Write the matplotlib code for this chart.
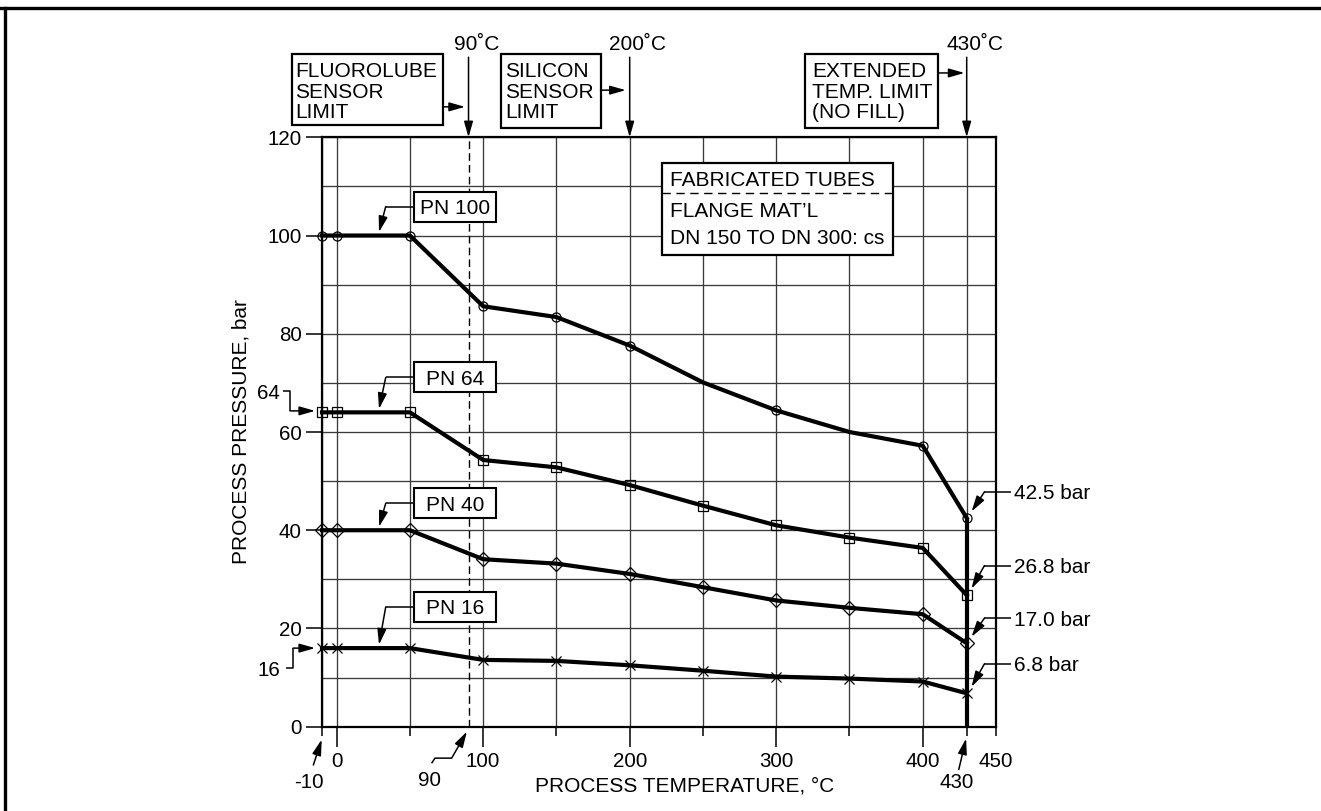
import matplotlib
matplotlib.use("Agg")
import matplotlib.pyplot as plt
from matplotlib.patches import Rectangle
from matplotlib.lines import Line2D

plt.rcParams['font.family'] = ['Liberation Sans', 'DejaVu Sans']

# ---------------- data ----------------
temps = [-10, 0, 50, 100, 150, 200, 250, 300, 350, 400, 430]
pn100 = [100, 100, 100, 85.6, 83.4, 77.6, 70.1, 64.4, 60.0, 57.2, 42.5]
pn64 = [64, 64, 64, 54.3, 52.8, 49.2, 45.0, 41.0, 38.5, 36.4, 26.8]
pn40 = [40, 40, 40, 34.1, 33.2, 31.1, 28.4, 25.7, 24.2, 22.9, 17.0]
pn16 = [16, 16, 16, 13.6, 13.4, 12.5, 11.4, 10.2, 9.8, 9.2, 6.8]
series_names = ["PN 100", "PN 64", "PN 40", "PN 16"]
series_vals = [pn100, pn64, pn40, pn16]
series_markers = ['o', 's', 'D', 'x']
pn100_marked = [0, 1, 2, 3, 4, 5, 7, 9, 10]
end_labels = ["42.5 bar", "26.8 bar", "17.0 bar", "6.8 bar"]

x_major = [0, 100, 200, 300, 400, 450]
x_minor = [-10, 50, 150, 250, 350, 430]
y_major = [0, 20, 40, 60, 80, 100, 120]
y_minor = [10, 30, 50, 70, 90, 110]

limit_temps = [90, 200, 430]
limit_titles = ["90˚C", "200˚C", "430˚C"]
limit_boxes = [["FLUOROLUBE", "SENSOR", "LIMIT"],
               ["SILICON", "SENSOR", "LIMIT"],
               ["EXTENDED", "TEMP. LIMIT", "(NO FILL)"]]

note_lines = ["FABRICATED TUBES", "FLANGE MAT’L", "DN 150 TO DN 300: cs"]

FS = 15
TFS = 14.8

fig = plt.figure(figsize=(13.21, 8.11), dpi=100)
ax = fig.add_axes([322 / 1321, 1 - 726.7 / 811, 674 / 1321, 589.4 / 811])
ax.set_xlim(-10, 450)
ax.set_ylim(0, 120)

# frame of the page
fig.add_artist(Line2D([0, 1], [1 - 7.5 / 811, 1 - 7.5 / 811], color='black', lw=2.4,
                      transform=fig.transFigure))
fig.add_artist(Line2D([5 / 1321, 5 / 1321], [0, 1 - 7.5 / 811], color='black', lw=2.4,
                      transform=fig.transFigure))

# ticks & grid
ax.set_xticks(x_major)
ax.set_xticklabels([str(v) for v in x_major])
ax.set_xticks(x_minor, minor=True)
ax.set_yticks(y_major)
ax.set_yticklabels([str(v) for v in y_major])
ax.set_yticks(y_minor, minor=True)
ax.tick_params(axis='x', which='major', length=14.4, width=1.1, pad=3.5, labelsize=TFS,
               direction='out')
ax.tick_params(axis='x', which='minor', length=6.5, width=1.1, direction='out')
ax.tick_params(axis='y', which='major', length=11.5, width=1.1, pad=3, labelsize=TFS,
               direction='out')
ax.tick_params(axis='y', which='minor', length=0)
ax.grid(which='both', color='#3a3a3a', lw=0.95)
ax.set_axisbelow(True)
for sp in ax.spines.values():
    sp.set_linewidth(1.6)
    sp.set_color('black')
ax.xaxis.get_major_ticks()[-1].tick1line.set_markersize(6.5)

ax.set_xlabel("PROCESS TEMPERATURE, °C", fontsize=FS)
ax.xaxis.set_label_coords(0.5386, -0.100)
ax.xaxis.label.set_va('center')
ax.set_ylabel("PROCESS PRESSURE, bar", fontsize=FS)
ax.yaxis.set_label_coords(-0.120, 0.50)
ax.yaxis.label.set_va('center')

# dashed fluorolube limit
ax.axvline(limit_temps[0], color='black', lw=1.0, ls=(0, (5.5, 3)), zorder=2)

# curves
for vals, mk in zip(series_vals, series_markers):
    me = pn100_marked if vals is pn100 else None
    ms = 6.5 if mk != 'D' else 6.8
    ax.plot(temps, vals, color='black', lw=3, marker=mk, ms=ms, mfc='none', mec='black',
            mew=0.9, markevery=me, zorder=4, clip_on=False)
ax.vlines(temps[-1], 0, pn100[-1], color='black', lw=3, zorder=4)

AP = dict(arrowstyle='-|>,head_length=0.95,head_width=0.27', color='black', lw=1.1,
          mutation_scale=10, shrinkA=0, shrinkB=0)


def arrow(start, tip):
    ax.annotate('', xy=tip, xytext=start, xycoords='data', textcoords='data',
                arrowprops=AP, annotation_clip=False, zorder=6)


def seg(xs, ys):
    ax.plot(xs, ys, color='black', lw=1.1, clip_on=False, zorder=6,
            solid_capstyle='butt')


def box(x0, x1, y0, y1, lw=1.5):
    ax.add_patch(Rectangle((x0, y0), x1 - x0, y1 - y0, fc='white', ec='black', lw=lw,
                           clip_on=False, zorder=5, transform=ax.transData))


# top limit annotations
box_x = [(-30.6, 72.7), (112.1, 180.1), (319.6, 410.5)]
box_y = [(122.5, 136.9), (121.9, 136.9), (121.9, 136.9)]
text_x = [-28.4, 114.8, 324.6]
line_y = [133.9, 129.6, 125.5]
harrow_y = [126.2, 129.6, 133.1]
harrow_tip = [-2.4, -2.7, -1.5]
title_dx = [5.8, 5.2, 5.6]
for i, t in enumerate(limit_temps):
    (x0, x1), (y0, y1) = box_x[i], box_y[i]
    box(x0, x1, y0, y1, lw=1.6)
    for s, yy in zip(limit_boxes[i], line_y):
        ax.text(text_x[i], yy, s, fontsize=FS, ha='left', va='center_baseline', zorder=7)
    arrow((x1, harrow_y[i]), (t + harrow_tip[i], harrow_y[i]))
    arrow((t, 136.3), (t, 120.0))
    ax.text(t + title_dx[i], 139.3, limit_titles[i], fontsize=FS, ha='center',
            va='center_baseline')

# fabricated tubes box
box(222.3, 379.6, 96.0, 114.7, lw=1.6)
ax.plot([222.3, 379.6], [108.7, 108.7], color='black', lw=1.0, ls=(0, (6, 4)), zorder=6)
for s, yy in zip(note_lines, [111.6, 105.2, 99.9]):
    ax.text(227.8, yy, s, fontsize=FS, ha='left', va='center_baseline', zorder=7)

# PN labels
pn_box_y = [105.9, 71.1, 45.5, 24.4]
for name, vals, by in zip(series_names, series_vals, pn_box_y):
    box(53.0, 108.7, by - 3.05, by + 3.05, lw=1.5)
    ax.text(80.9, by, name, fontsize=FS, ha='center', va='center_baseline', zorder=7)
    seg([53.0, 33.5], [by, by])
    arrow((33.5, by), (28.9, vals[0] + 0.7))

# left side value labels (64, 16)
ax.text(-38.6, 68.3, "64", fontsize=TFS, ha='right', va='center_baseline')
seg([-36.3, -31.8, -31.8], [68.3, 68.3, pn64[0] + 0.3])
arrow((-31.8, pn64[0] + 0.3), (-14.7, pn64[0] + 0.3))
ax.text(-38.6, 11.9, "16", fontsize=TFS, ha='right', va='center_baseline')
seg([-34.5, -29.7, -29.7], [11.9, 11.9, pn16[0]])
arrow((-29.7, pn16[0]), (-14.7, pn16[0]))

# right side end labels
end_text_y = [47.8, 32.8, 22.1, 12.8]
for lab, vals, ty in zip(end_labels, series_vals, end_text_y):
    ax.text(462.5, ty, lab, fontsize=FS, ha='left', va='center_baseline')
    seg([460.3, 442.1], [ty, ty])
    arrow((442.1, ty), (433.3, vals[-1] + 1.3))

# bottom special labels
ax.text(-18.8, -10.9, "-10", fontsize=TFS, ha='center', va='center_baseline')
arrow((-15.9, -7.8), (-10.2, -2.6))
ax.text(63.2, -10.5, "90", fontsize=TFS, ha='center', va='center_baseline')
seg([64.8, 67.1, 78.5], [-7.45, -6.4, -6.4])
arrow((78.5, -6.4), (88.9, -1.0))
ax.text(423.5, -11.0, "430", fontsize=TFS, ha='center', va='center_baseline')
arrow((424.6, -8.7), (429.6, -2.4))

fig.savefig("out.png", dpi=100)
